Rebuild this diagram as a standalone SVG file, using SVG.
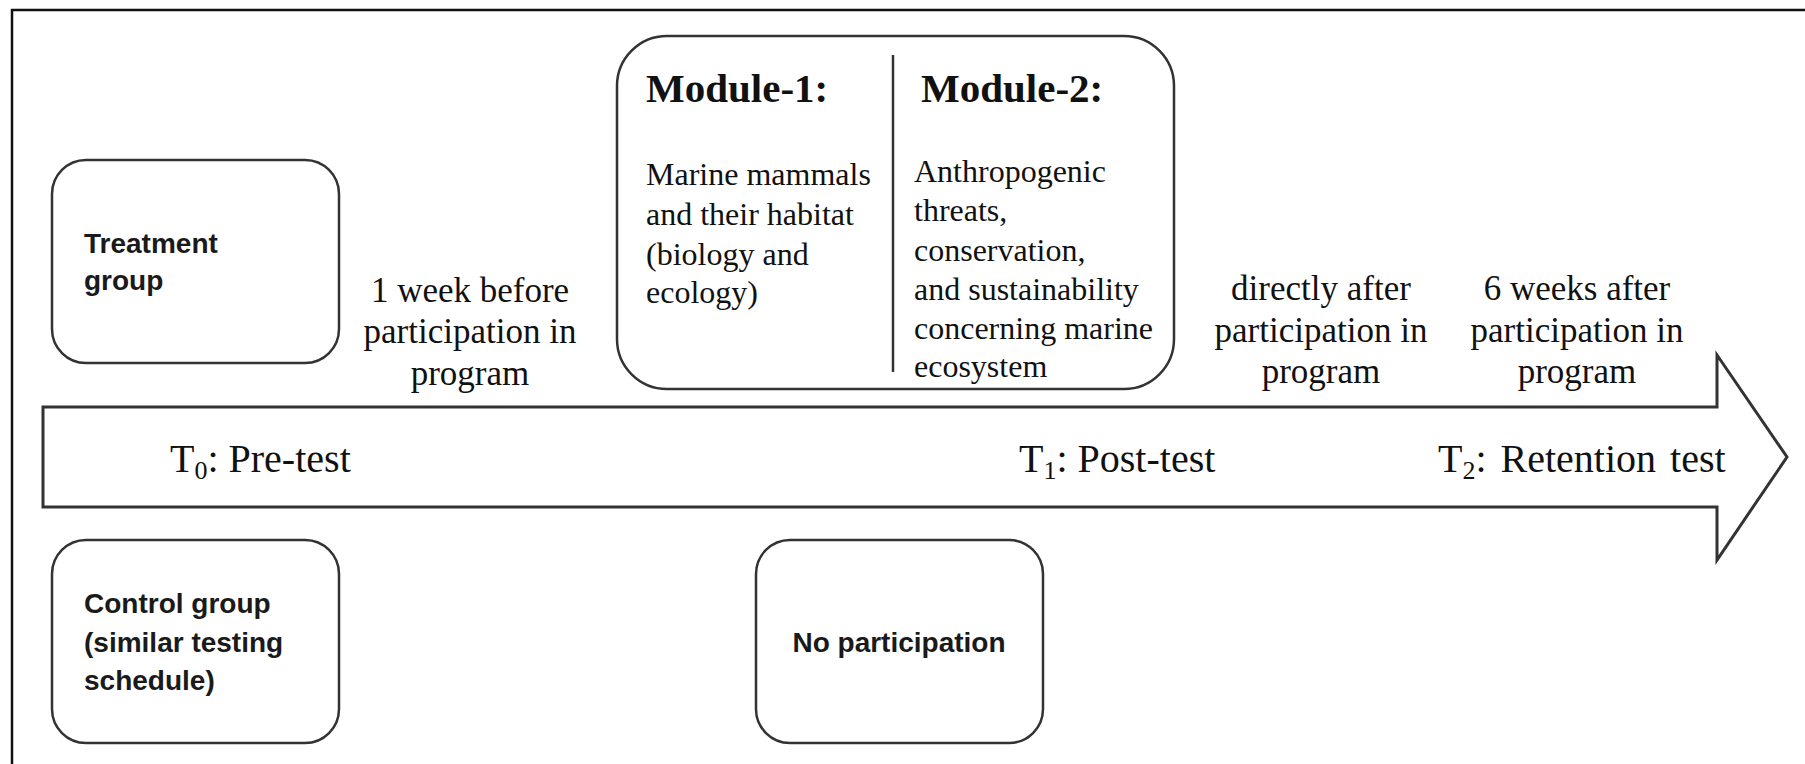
<svg xmlns="http://www.w3.org/2000/svg" width="1805" height="764" viewBox="0 0 1805 764">
<style>
.box{fill:#fff;stroke:#333;stroke-width:2.5}
.sans{font-family:"Liberation Sans",Arial,sans-serif;font-weight:bold;font-size:28px;fill:#1a1a1a}
.serif{font-family:"Liberation Serif","Times New Roman",serif;fill:#111}
.lbl{font-size:35px;text-anchor:middle}
.tl{font-size:40px}
.mh{font-size:41px;font-weight:bold}
.mb{font-size:32px}
.sub{font-size:26px}
</style>
<rect x="0" y="0" width="1805" height="764" fill="#fff"/>
<g id="frame"><path d="M12,764 V10 H1805" fill="none" stroke="#111" stroke-width="2.5"/></g>
<g id="connectors">
<polygon id="timeline-arrow" points="43,407 1717,407 1717,355 1787,457 1717,560 1717,507 43,507" fill="#fff" stroke="#333" stroke-width="3"/>
</g>
<g id="treatment">
<rect class="box" x="52" y="160" width="287" height="203" rx="34"/>
<text class="sans" x="84" y="253">Treatment</text>
<text class="sans" x="84" y="290">group</text>
</g>
<g id="control">
<rect class="box" x="52" y="540" width="287" height="203" rx="34"/>
<text class="sans" x="84" y="613">Control group</text>
<text class="sans" x="84" y="652">(similar testing</text>
<text class="sans" x="84" y="690">schedule)</text>
</g>
<g id="noparticipation">
<rect class="box" x="756" y="540" width="287" height="203" rx="34"/>
<text class="sans" x="899" y="652" text-anchor="middle">No participation</text>
</g>
<g id="modules">
<rect class="box" x="617" y="36" width="557" height="353" rx="50"/>
<line x1="893" y1="55" x2="893" y2="372" stroke="#333" stroke-width="2.5"/>
<text class="serif mh" x="646" y="102">Module-1:</text>
<text class="serif mh" x="921" y="102">Module-2:</text>
<text class="serif mb" x="646" y="185">Marine mammals</text>
<text class="serif mb" x="646" y="225">and their habitat</text>
<text class="serif mb" x="646" y="265">(biology and</text>
<text class="serif mb" x="646" y="303">ecology)</text>
<text class="serif mb" x="914" y="182">Anthropogenic</text>
<text class="serif mb" x="914" y="221">threats,</text>
<text class="serif mb" x="914" y="261">conservation,</text>
<text class="serif mb" x="914" y="300">and sustainability</text>
<text class="serif mb" x="914" y="339">concerning marine</text>
<text class="serif mb" x="914" y="377">ecosystem</text>
</g>
<g id="before">
<text class="serif lbl" x="470" y="302">1 week before</text>
<text class="serif lbl" x="470" y="343">participation in</text>
<text class="serif lbl" x="470" y="385">program</text>
</g>
<g id="directly">
<text class="serif lbl" x="1321" y="300">directly after</text>
<text class="serif lbl" x="1321" y="342">participation in</text>
<text class="serif lbl" x="1321" y="383">program</text>
</g>
<g id="sixweeks">
<text class="serif lbl" x="1577" y="300">6 weeks after</text>
<text class="serif lbl" x="1577" y="342">participation in</text>
<text class="serif lbl" x="1577" y="383">program</text>
</g>
<g id="t0"><text class="serif tl" x="170" y="472">T<tspan class="sub" dy="7">0</tspan><tspan dy="-7">: Pre-test</tspan></text></g>
<g id="t1"><text class="serif tl" x="1019" y="472">T<tspan class="sub" dy="7">1</tspan><tspan dy="-7">: Post-test</tspan></text></g>
<g id="t2"><text class="serif tl" x="1438" y="472" word-spacing="4">T<tspan class="sub" dy="7">2</tspan><tspan dy="-7">: Retention test</tspan></text></g>
</svg>
